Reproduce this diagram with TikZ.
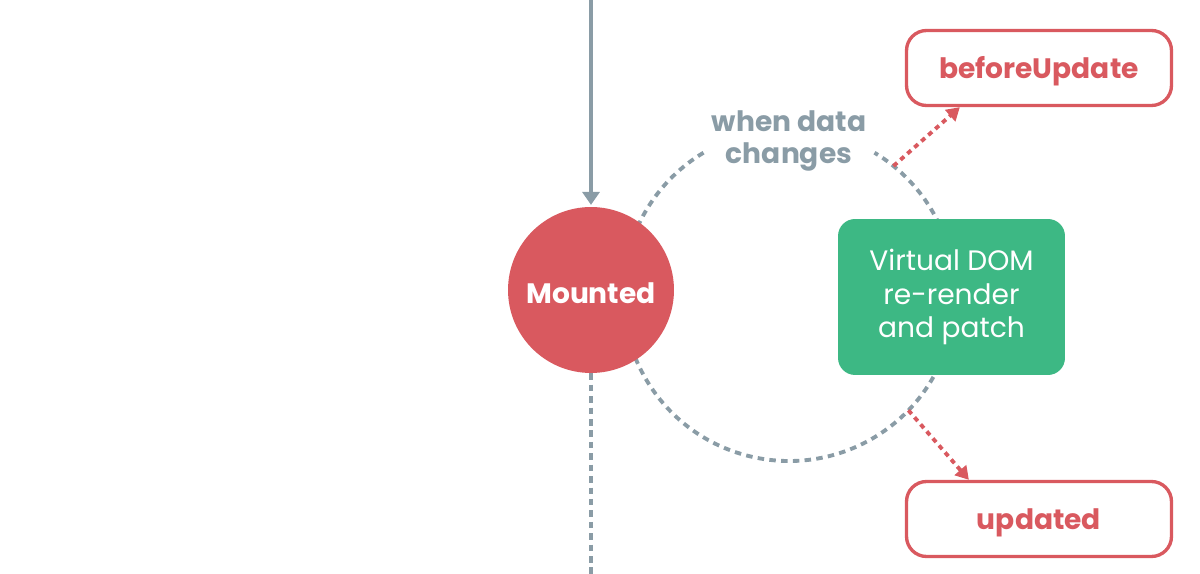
\documentclass[tikz,border=0pt]{standalone}
\usepackage{fontspec}
\setmainfont{Poppins}
\usetikzlibrary{arrows.meta,calc}

\definecolor{vred}{HTML}{D9595F}
\definecolor{vgray}{HTML}{8A9CA6}
\definecolor{vgreen}{HTML}{3DB884}

\begin{document}
\begin{tikzpicture}[x=0.02cm, y=0.02cm,
  hook/.style={rectangle, rounded corners=0.4cm, draw=vred, line width=1.9pt, fill=white,
    minimum width=5.3cm, minimum height=1.5cm, text=vred, text height=16.5pt, text depth=4pt,
    font=\bfseries\fontsize{16}{18}\selectfont},
  state/.style={circle, fill=vred, minimum size=3.32cm, inner sep=0pt, text=white,
    text height=19pt, text depth=4pt, font=\bfseries\fontsize{16}{18}\selectfont},
  renderbox/.style={rectangle, rounded corners=0.34cm, fill=vgreen, minimum width=4.54cm,
    minimum height=3.12cm, text=white, align=center, font=\fontsize{16}{19}\selectfont},
  cyc/.style={draw=vgray, line width=2.2pt, dash pattern=on 3.7pt off 3pt},
  flow/.style={draw=vgray, line width=2.3pt, -{Triangle[width=9.7pt,length=7.4pt]}},
  down/.style={draw=vgray, line width=1.8pt, dash pattern=on 3.7pt off 2.8pt},
  fire/.style={draw=vred, line width=2.2pt, dash pattern=on 2.8pt off 2.5pt,
    -{Triangle[width=8.5pt,length=7.4pt]}}]

\useasboundingbox (0,0) rectangle (1200,574);

% ciclo di aggiornamento
\coordinate (c) at (789,279);
\draw[cyc] ($(c)+(121:166)$) arc[start angle=121, end angle=419, radius=166];

\node[state] (mounted) at (591,284) {Mounted};
\node[renderbox] (render) at (951.5,277) {Virtual DOM\\re-render\\and patch};
\node[text=vgray, align=center, font=\bfseries\fontsize{16}{18}\selectfont] (when) at (789,433) {when data\\changes};
\node[hook] (before) at (1039,506) {beforeUpdate};
\node[hook] (updated) at (1039,55) {updated};

\coordinate (top) at (591,574);
\coordinate (bottom) at (591,0);

% Archi
\draw[flow, shorten >=1pt] (top) -- (mounted);
\draw[down] (mounted) -- (bottom);
\draw[fire] ($(c)+(51:166)$) -- ($(before.south west)+(55,0)$);
\draw[fire] ($(c)+(-44:166)$) -- ($(updated.north west)+(64,0)$);

\end{tikzpicture}
\end{document}
